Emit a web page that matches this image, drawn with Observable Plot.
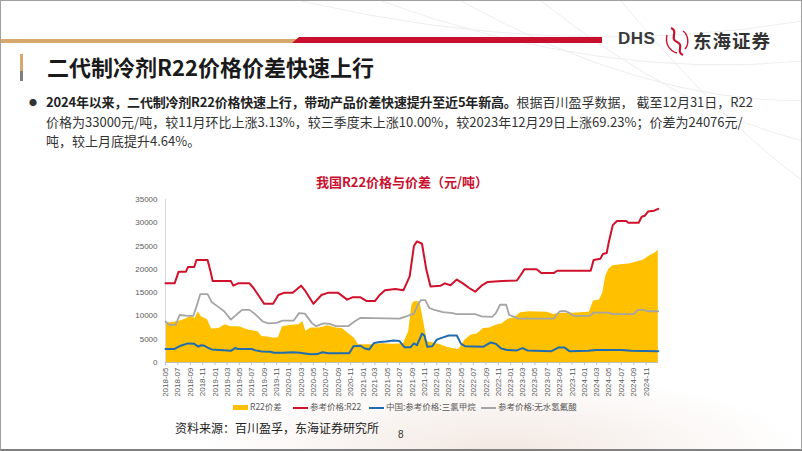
<!DOCTYPE html>
<html><head><meta charset="utf-8">
<script src="https://cdn.jsdelivr.net/npm/d3@7"></script>
<script src="https://cdn.jsdelivr.net/npm/@observablehq/plot@0.6"></script>
<style>
html,body{margin:0;padding:0;background:#fff;}
#slide{position:relative;width:802px;height:451px;overflow:hidden;box-sizing:border-box;border:1px solid #a0a0a0;border-bottom:2px solid #808080;font-family:"Noto Sans CJK SC","Noto Sans",sans-serif;background:#fff;}
.abs{position:absolute;}
#deco-bottom{left:130px;top:320px;width:672px;height:130px;background:radial-gradient(ellipse 60% 80% at 55% 100%, rgba(214,180,160,0.30), rgba(255,255,255,0) 75%);}
#gold-line{left:0;top:38px;width:300px;height:4px;background:#D6A86E;}
#red-line{left:291px;top:36px;width:310px;height:6px;background:#C8102E;clip-path:polygon(7px 0,100% 0,100% 100%,0 100%);}
#logo-dhs{left:617px;top:28px;font-family:"Liberation Sans",Arial,sans-serif;font-weight:bold;font-size:17px;color:#3a3a3a;letter-spacing:0.5px;}
#logo-cn{left:692px;top:26px;font-size:18.5px;font-weight:bold;color:#333;letter-spacing:1px;}
#vbar-top{left:19px;top:53px;width:3px;height:17px;background:#D6A86E;}
#vbar-bot{left:19px;top:70px;width:3px;height:10px;background:#7f7f7f;}
#title{left:46px;top:50px;font-size:22px;font-weight:bold;color:#1a1a1a;white-space:nowrap;line-height:30px;}
#bullet{left:28px;top:96px;font-size:8px;color:#333;}
#body{left:45px;top:91px;font-size:13px;line-height:19.5px;color:#333;white-space:nowrap;}
#body b{color:#222;letter-spacing:-0.2px;}
#ctitle{left:0;width:802px;top:171px;text-align:center;font-size:13px;font-weight:bold;color:#C8102E;}
#chart{left:120px;top:190px;}
.leg{position:absolute;top:399px;font-size:8.5px;color:#595959;white-space:nowrap;line-height:12px;}
.sw{display:inline-block;width:15px;vertical-align:middle;margin-right:2px;}
#source{left:174px;top:418px;font-size:12px;color:#222;white-space:nowrap;}
#page{left:397px;top:428px;font-size:10px;color:#333;font-family:"Liberation Sans",Arial,sans-serif;}
</style></head>
<body>
<div id="slide">
  <svg class="abs" style="left:0;top:0" width="802" height="451">
    <g fill="none" stroke="#eeeeee" stroke-width="1">
      <path d="M300,0 Q560,60 802,20"/>
      <path d="M380,0 Q600,80 802,60"/>
      <path d="M460,0 Q640,100 802,100"/>
      <path d="M540,0 Q680,110 802,140"/>
      <path d="M620,0 Q720,120 802,180"/>
    </g>
  </svg>
  <div id="deco-bottom" class="abs"></div>
  <div id="gold-line" class="abs"></div>
  <div id="red-line" class="abs"></div>
  <div id="logo-dhs" class="abs">DHS</div>
  <svg class="abs" style="left:662px;top:24px" width="28" height="32">
    <path d="M8,3 C16,6 6,14 14,17 C22,20 12,27 20,30" fill="none" stroke="#C8102E" stroke-width="2.2"/>
    <path d="M4,10 C2,18 6,26 14,28" fill="none" stroke="#C8102E" stroke-width="1.4"/>
    <path d="M20,6 C26,10 26,20 22,24" fill="none" stroke="#C8102E" stroke-width="1.4"/>
  </svg>
  <div id="logo-cn" class="abs">东海证券</div>
  <div id="vbar-top" class="abs"></div>
  <div id="vbar-bot" class="abs"></div>
  <div id="title" class="abs">二代制冷剂R22价格价差快速上行</div>
  <div id="bullet" class="abs">●</div>
  <div id="body" class="abs"><b>2024年以来，二代制冷剂R22价格快速上行，带动产品价差快速提升至近5年新高。</b>根据百川盈孚数据， 截至12月31日，R22<br>价格为33000元/吨，较11月环比上涨3.13%，较三季度末上涨10.00%，较2023年12月29日上涨69.23%；价差为24076元/<br>吨，较上月底提升4.64%。</div>
  <div id="ctitle" class="abs">我国R22价格与价差（元/吨）</div>
  <div id="chart" class="abs"></div>
  <div class="leg" style="left:232px"><span class="sw" style="height:5px;background:#FFC000"></span>R22价差</div>
  <div class="leg" style="left:292px"><span class="sw" style="height:2px;background:#D0112B"></span>参考价格:R22</div>
  <div class="leg" style="left:368px"><span class="sw" style="height:2px;background:#1F6CB0"></span>中国:参考价格:三氯甲烷</div>
  <div class="leg" style="left:480px"><span class="sw" style="height:2px;background:#A5A5A5"></span>参考价格:无水氢氟酸</div>
  <div id="source" class="abs">资料来源：百川盈孚，东海证券研究所</div>
  <div id="page" class="abs">8</div>
</div>
<script>
// ---- data ----
const r22Dates = ["2018-05-01","2018-06-15","2018-07-05","2018-08-10","2018-08-20","2018-09-20","2018-10-01","2018-11-25","2018-12-10","2018-12-20","2019-03-20","2019-04-01","2019-04-25","2019-06-20","2019-07-10","2019-08-10","2019-09-01","2019-10-15","2019-11-10","2019-12-10","2020-01-20","2020-03-01","2020-03-20","2020-05-01","2020-06-10","2020-07-15","2020-08-30","2020-10-15","2020-11-10","2020-12-20","2021-01-20","2021-03-01","2021-03-25","2021-04-20","2021-06-10","2021-07-20","2021-08-20","2021-09-10","2021-09-25","2021-10-20","2021-11-10","2021-12-01","2022-01-20","2022-02-10","2022-03-10","2022-04-10","2022-05-10","2022-06-10","2022-07-10","2022-08-10","2022-09-10","2022-11-20","2023-02-01","2023-02-20","2023-03-10","2023-05-10","2023-06-01","2023-08-01","2023-08-20","2024-02-01","2024-02-15","2024-03-20","2024-04-01","2024-04-20","2024-05-01","2024-05-20","2024-06-10","2024-07-25","2024-08-05","2024-09-25","2024-10-10","2024-10-25","2024-11-10","2024-12-10","2024-12-31"];
const r22Values = [17000,17000,19500,19500,20500,20500,22000,22000,19500,17500,17500,16500,17000,17000,16000,14000,12600,12600,14500,15000,15000,16500,15500,12600,14500,15000,15000,13500,14000,14000,13200,13200,14500,15500,15800,15500,18500,25000,26000,25500,20000,16300,16500,17000,16600,17800,17000,16000,15200,16500,17300,17500,17600,18800,20000,20000,19200,19200,19700,19700,22000,22300,23300,23500,26000,29500,30400,30400,30000,30000,31300,31500,32400,32600,33000];

const gapDates = ["2018-05-01","2018-06-01","2018-07-01","2018-08-01","2018-09-01","2018-09-25","2018-10-10","2018-10-25","2018-11-25","2018-12-15","2019-01-20","2019-02-20","2019-03-20","2019-05-01","2019-06-15","2019-08-01","2019-08-20","2019-09-20","2019-10-20","2019-11-10","2019-12-01","2020-01-15","2020-02-20","2020-03-10","2020-03-25","2020-04-20","2020-06-01","2020-07-10","2020-08-20","2020-09-20","2020-10-20","2020-11-20","2020-12-10","2021-02-15","2021-04-01","2021-06-01","2021-07-20","2021-08-15","2021-09-01","2021-09-15","2021-10-10","2021-10-25","2021-11-15","2021-12-15","2022-01-20","2022-02-20","2022-03-20","2022-04-20","2022-05-20","2022-06-20","2022-07-20","2022-08-20","2022-09-20","2022-10-20","2022-11-20","2022-12-20","2023-01-20","2023-02-20","2023-04-01","2023-07-01","2023-08-01","2023-09-01","2023-11-01","2024-01-25","2024-02-15","2024-03-15","2024-04-01","2024-04-15","2024-05-01","2024-05-20","2024-07-01","2024-08-15","2024-09-15","2024-10-20","2024-11-15","2024-12-15","2024-12-31"];
const gapValues = [8400,8600,8800,9200,9800,9500,10900,9800,9200,7200,7300,8100,7700,7700,7000,6600,5600,5500,5200,5300,7700,8000,8100,8800,6700,7400,7400,7900,7400,7300,6300,5200,3800,3800,4000,3900,4000,6600,12500,13100,13000,9500,4500,4200,3800,3300,3000,2800,4800,5900,6100,7300,7400,8000,8300,9300,9600,10700,10900,10800,10300,10500,10600,10800,13200,13400,15000,18500,20000,20800,21000,21200,21600,22000,22800,23500,24076];

const tcmDates = ["2018-05-01","2018-06-15","2018-07-15","2018-08-20","2018-09-20","2018-10-10","2018-10-25","2018-11-10","2018-11-25","2018-12-15","2019-03-01","2019-03-20","2019-04-10","2019-04-25","2019-07-01","2019-07-20","2019-08-20","2019-10-01","2019-10-20","2019-12-01","2020-01-20","2020-02-25","2020-03-20","2020-04-20","2020-05-20","2020-06-15","2020-07-15","2020-10-25","2020-11-15","2020-12-20","2021-01-10","2021-02-01","2021-02-25","2021-03-25","2021-04-25","2021-06-01","2021-07-01","2021-07-25","2021-08-25","2021-09-10","2021-09-25","2021-10-20","2021-11-01","2021-11-15","2021-12-10","2022-01-01","2022-02-01","2022-03-01","2022-04-10","2022-05-01","2022-05-20","2022-08-20","2022-09-25","2022-10-20","2022-11-15","2022-12-15","2023-02-01","2023-03-01","2023-03-25","2023-07-20","2023-08-25","2023-09-25","2023-10-20","2024-01-20","2024-03-01","2024-07-01","2024-08-20","2024-12-31"];
const tcmValues = [2900,2900,3600,4100,4000,3400,3700,3600,3200,2800,2600,2500,3100,2900,2900,2600,2350,2300,2100,2100,2200,2100,1950,1750,1800,2200,2000,2000,3500,3600,3000,2800,4200,4400,4500,4700,4600,3300,3300,4100,3700,6200,5800,3400,3500,4900,5400,5800,5800,4000,3500,3400,4300,4000,3000,2700,2600,3100,2600,2400,3200,3200,2400,2500,2700,2700,2500,2400];

const hfDates = ["2018-05-01","2018-05-20","2018-06-20","2018-07-10","2018-08-20","2018-09-15","2018-10-01","2018-10-20","2018-11-25","2018-12-15","2019-01-15","2019-02-15","2019-03-20","2019-04-20","2019-05-15","2019-06-20","2019-07-15","2019-08-25","2019-09-20","2019-11-01","2019-12-01","2020-01-25","2020-02-20","2020-03-20","2020-04-25","2020-05-15","2020-06-20","2020-07-20","2020-08-20","2020-10-20","2020-11-20","2020-12-20","2021-07-01","2021-08-10","2021-09-10","2021-10-01","2021-10-15","2021-11-05","2021-11-25","2021-12-20","2022-02-01","2022-03-20","2022-04-10","2022-07-10","2022-08-10","2022-10-01","2022-10-20","2022-11-10","2022-12-10","2022-12-25","2023-01-20","2023-02-10","2023-08-01","2023-09-01","2023-10-01","2023-10-20","2023-11-10","2024-01-25","2024-02-15","2024-05-01","2024-05-20","2024-09-01","2024-09-20","2024-10-20","2024-11-10","2024-12-31"];
const hfValues = [8800,8100,8100,10200,10000,10000,12000,14700,14700,13000,12000,11000,9200,10400,11300,11300,10500,8800,8400,8500,9000,9000,10600,10500,8400,7800,8400,8300,7800,7800,8800,9600,9400,10000,10500,12500,13400,13400,11700,11300,10800,10600,10400,10400,9900,9800,10600,12400,12400,10200,9800,9400,9400,11000,11000,10600,10000,10000,10700,10700,10400,10400,11300,11300,11000,11000];

const xTickLabels = ["2018-05","2018-07","2018-09","2018-11","2019-01","2019-03","2019-05","2019-07","2019-09","2019-11","2020-01","2020-03","2020-05","2020-07","2020-09","2020-11","2021-01","2021-03","2021-05","2021-07","2021-09","2021-11","2022-01","2022-03","2022-05","2022-07","2022-09","2022-11","2023-01","2023-03","2023-05","2023-07","2023-09","2023-11","2024-01","2024-03","2024-05","2024-07","2024-09","2024-11"];
const yTicks = [0,5000,10000,15000,20000,25000,30000,35000];

// ---- build ----
const parseDay = d3.utcParse("%Y-%m-%d");
const parseMonth = d3.utcParse("%Y-%m");
const rows = (ds, vs) => ds.map((d, i) => ({date: parseDay(d), value: vs[i]}));
const r22 = rows(r22Dates, r22Values);
const gap = rows(gapDates, gapValues);
const tcm = rows(tcmDates, tcmValues);
const hf = rows(hfDates, hfValues);
const xTicks = xTickLabels.map(parseMonth);

const chart = Plot.plot({
  width: 550, height: 215,
  marginLeft: 44, marginRight: 13, marginTop: 8, marginBottom: 44,
  x: {type: "utc", domain: [parseDay("2018-05-01"), parseDay("2025-01-01")]},
  y: {domain: [0, 35000]},
  style: {fontFamily: "'Liberation Sans', Arial, sans-serif", fontSize: "8px", color: "#595959", background: "transparent", overflow: "visible"},
  marks: [
    Plot.areaY(gap, {x: "date", y: "value", fill: "#FFC000"}),
    Plot.ruleX([parseDay("2018-05-01")], {stroke: "#d9d9d9"}),
    Plot.ruleY([0], {stroke: "#bfbfbf"}),
    Plot.lineY(hf, {x: "date", y: "value", stroke: "#A5A5A5", strokeWidth: 1.8}),
    Plot.lineY(r22, {x: "date", y: "value", stroke: "#D0112B", strokeWidth: 2}),
    Plot.lineY(tcm, {x: "date", y: "value", stroke: "#1F6CB0", strokeWidth: 2}),
    Plot.axisY({ticks: yTicks, tickSize: 0, tickPadding: 8, label: null, tickFormat: d => String(d)}),
    Plot.axisX({ticks: xTicks, tickFormat: d3.utcFormat("%Y-%m"), tickRotate: -90, tickSize: 3, tickPadding: 2, label: null, stroke: "#bfbfbf"})
  ]
});
document.getElementById("chart").appendChild(chart);
</script>
</body></html>
